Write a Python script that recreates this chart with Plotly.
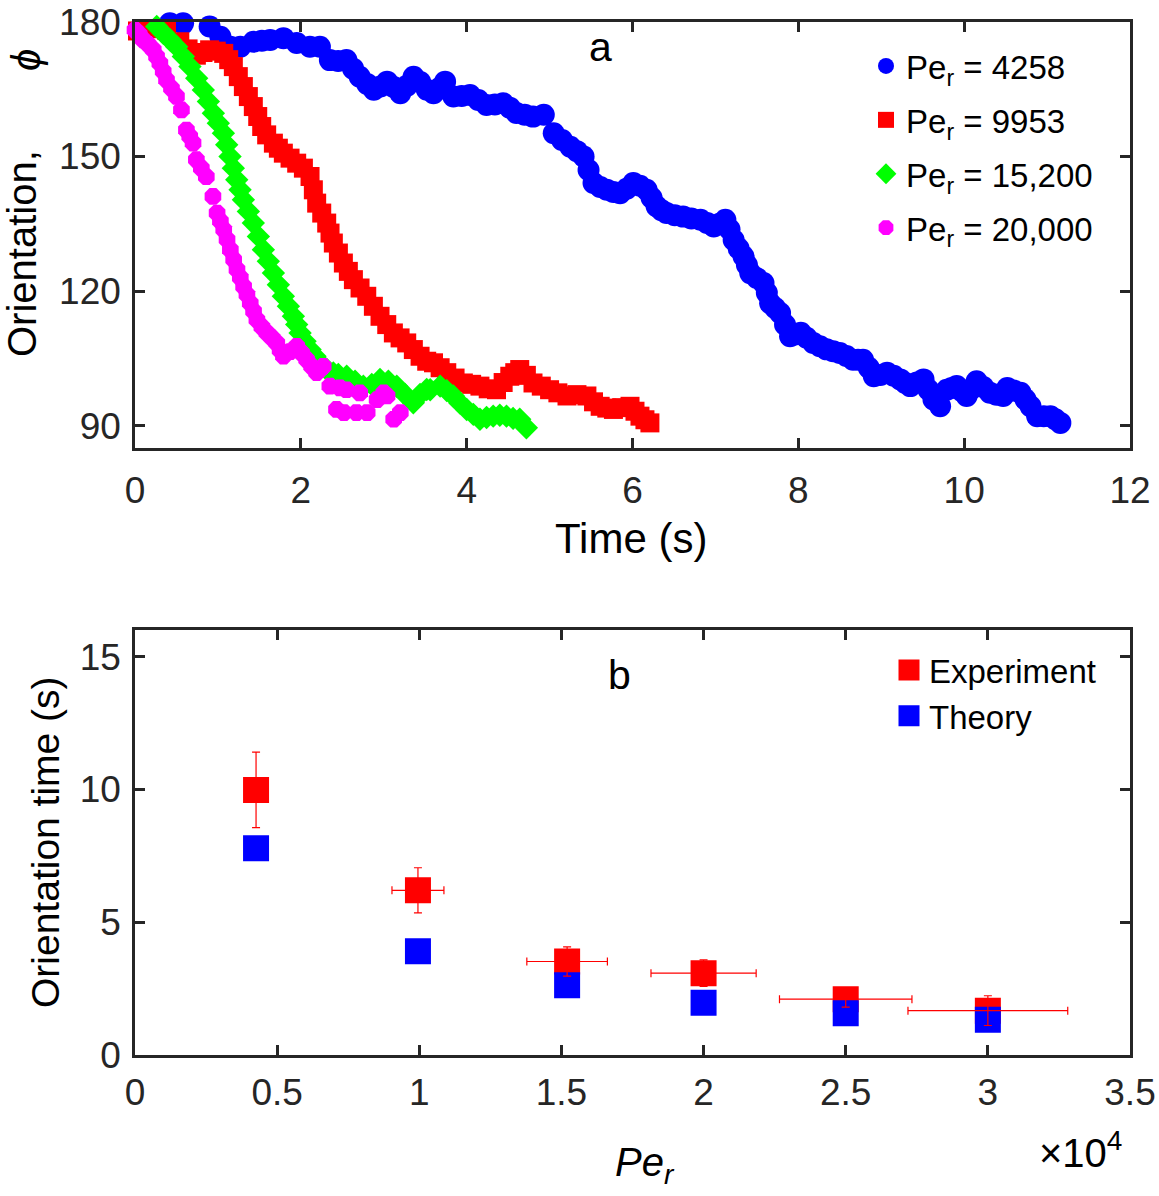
import plotly.graph_objects as go

# ---------------- Panel (a): orientation vs time ----------------
t_4258 = [0.18, 0.42, 0.58, 0.76, 0.9, 1.03, 1.15, 1.27, 1.43, 1.53, 1.63, 1.79, 1.95, 2.11, 2.23, 2.35,
          2.45, 2.55, 2.63, 2.71, 2.8, 2.88, 2.96, 3.04, 3.12, 3.2, 3.28, 3.36, 3.44, 3.52, 3.6, 3.67, 3.74,
          3.84, 3.94, 4.04, 4.14, 4.24, 4.34, 4.44, 4.52, 4.6, 4.7, 4.8, 4.93, 5.05, 5.15, 5.25, 5.33, 5.41,
          5.47, 5.53, 5.61, 5.69, 5.77, 5.85, 5.93, 6.01, 6.09, 6.17, 6.23, 6.29, 6.35, 6.41, 6.51, 6.61,
          6.71, 6.82, 6.9, 6.98, 7.05, 7.12, 7.17, 7.22, 7.28, 7.34, 7.38, 7.42, 7.5, 7.58, 7.62, 7.66, 7.72,
          7.78, 7.84, 7.9, 7.96, 8.03, 8.1, 8.18, 8.26, 8.34, 8.42, 8.5, 8.58, 8.66, 8.72, 8.78, 8.85, 8.91,
          8.99, 9.07, 9.15, 9.23, 9.29, 9.35, 9.43, 9.51, 9.57, 9.63, 9.71, 9.79, 9.85, 9.91, 9.97, 10.03,
          10.09, 10.15, 10.23, 10.31, 10.39, 10.47, 10.52, 10.6, 10.68, 10.74, 10.8, 10.88, 10.96, 11.04,
          11.1, 11.16]
phi_4258 = [180.1, 179.7, 179.7, 180.4, 179.0, 176.7, 174.5, 174.5, 175.6, 175.8, 176.0, 176.4, 175.3, 174.5,
            174.5, 171.5, 171.3, 171.5, 169.6, 167.8, 166.2, 164.9, 165.6, 166.7, 165.5, 164.1, 165.8, 167.8,
            166.6, 164.9, 164.1, 165.2, 166.7, 163.4, 163.5, 163.7, 162.6, 161.5, 161.6, 161.9, 160.9, 159.7,
            159.3, 158.9, 159.3, 155.2, 153.7, 152.2, 151.2, 150.0, 147.0, 144.1, 143.2, 142.6, 142.1, 141.8,
            142.8, 144.1, 143.5, 142.6, 140.8, 138.9, 138.0, 137.4, 136.9, 136.6, 136.2, 135.9, 135.2, 134.4,
            135.0, 135.9, 133.8, 131.4, 129.5, 127.7, 125.8, 124.0, 122.9, 121.8, 119.6, 117.3, 116.2, 115.1,
            112.5, 109.9, 110.3, 110.7, 109.6, 108.4, 107.7, 107.0, 106.6, 106.2, 105.5, 104.7, 104.7, 104.7,
            102.9, 101.0, 101.3, 101.8, 101.1, 100.3, 99.5, 98.8, 99.6, 100.3, 98.0, 95.8, 94.3, 98.0, 98.4,
            98.8, 97.7, 96.6, 98.2, 99.9, 98.6, 97.3, 96.9, 96.6, 98.4, 97.8, 97.3, 95.8, 94.3, 92.1, 92.1,
            92.1, 91.4, 90.6]

t_9953 = [0.03, 0.2, 0.38, 0.54, 0.64, 0.74, 0.82, 0.9, 0.98, 1.07, 1.13, 1.186, 1.246, 1.307, 1.367, 1.427,
          1.48, 1.528, 1.588, 1.669, 1.729, 1.789, 1.87, 1.95, 2.031, 2.111, 2.151, 2.191, 2.252, 2.312,
          2.352, 2.392, 2.453, 2.513, 2.573, 2.634, 2.714, 2.795, 2.875, 2.955, 3.036, 3.116, 3.197, 3.277,
          3.357, 3.438, 3.518, 3.6, 3.68, 3.76, 3.86, 3.96, 4.06, 4.16, 4.26, 4.36, 4.44, 4.52, 4.58, 4.64,
          4.72, 4.8, 4.9, 5.0, 5.1, 5.21, 5.33, 5.45, 5.53, 5.61, 5.69, 5.77, 5.87, 5.97, 6.03, 6.09, 6.15,
          6.21]
phi_9953 = [178.0, 178.5, 178.2, 175.6, 174.0, 172.6, 173.2, 173.8, 173.5, 173.0, 171.6, 170.05, 167.82,
            165.6, 163.37, 161.14, 158.92, 156.69, 154.83, 152.98, 151.86, 150.75, 149.64, 148.52, 147.41,
            145.55, 142.58, 139.61, 137.39, 135.16, 132.93, 130.71, 128.48, 126.25, 124.39, 122.54, 120.68,
            118.83, 116.6, 114.37, 112.52, 110.66, 109.55, 108.43, 106.95, 105.46, 104.35, 104.0, 102.9,
            101.8, 100.6, 99.5, 99.2, 98.8, 98.2, 98.0, 99.6, 101.0, 101.8, 102.5, 101.2, 99.5, 98.8, 98.0,
            97.3, 96.6, 96.9, 96.6, 95.3, 94.3, 93.9, 93.6, 94.0, 94.3, 93.2, 92.1, 91.3, 90.6]

t_15200 = [0.02, 0.181, 0.262, 0.342, 0.422, 0.503, 0.583, 0.663, 0.744, 0.824, 0.885, 0.945, 1.005, 1.066,
           1.106, 1.146, 1.186, 1.227, 1.267, 1.307, 1.367, 1.427, 1.488, 1.548, 1.608, 1.669, 1.729, 1.789,
           1.85, 1.91, 1.95, 1.991, 2.051, 2.111, 2.171, 2.232, 2.312, 2.392, 2.452, 2.553, 2.654, 2.754,
           2.855, 2.955, 3.056, 3.157, 3.257, 3.357, 3.438, 3.518, 3.56, 3.68, 3.76, 3.84, 3.92, 4.0, 4.08,
           4.16, 4.24, 4.32, 4.4, 4.48, 4.56, 4.64, 4.72]
phi_15200 = [181.0, 180.45, 179.0, 177.48, 176.03, 174.5, 172.28, 170.05, 167.45, 164.86, 162.26, 159.66,
             157.44, 155.21, 152.61, 150.01, 147.41, 144.82, 142.59, 140.36, 137.76, 135.16, 132.19, 129.22,
             126.62, 124.02, 121.42, 118.83, 116.6, 114.37, 112.52, 110.66, 108.8, 106.95, 105.46, 103.98,
             102.49, 101.75, 101.4, 101.01, 99.89, 98.78, 99.15, 100.27, 99.89, 98.78, 96.93, 95.07, 96.93,
             98.04, 98.0, 98.8, 97.8, 96.6, 95.0, 93.6, 92.5, 91.4, 91.8, 92.1, 92.3, 92.1, 91.6, 91.4, 89.5]

t_20000 = [0.0, 0.05, 0.1, 0.16, 0.22, 0.26, 0.3, 0.34, 0.38, 0.44, 0.5, 0.56, 0.62, 0.66, 0.7, 0.74, 0.8,
           0.86, 0.94, 0.99, 1.03, 1.07, 1.11, 1.15, 1.19, 1.23, 1.27, 1.31, 1.35, 1.39, 1.43, 1.47, 1.53,
           1.59, 1.65, 1.71, 1.75, 1.79, 1.87, 1.95, 2.01, 2.07, 2.13, 2.19, 2.23, 2.27, 2.35, 2.43, 2.47,
           2.52, 2.55, 2.67, 2.71, 2.8, 2.92, 3.0, 3.04, 3.12, 3.2]
phi_20000 = [178.2, 177.3, 176.0, 175.0, 173.8, 172.3, 170.8, 169.0, 167.1, 165.2, 163.4, 160.4, 155.9,
             154.5, 153.0, 149.3, 147.4, 145.5, 141.1, 137.4, 135.6, 133.7, 131.5, 129.2, 127.0, 124.8,
             123.0, 121.0, 119.2, 117.3, 115.5, 113.6, 112.0, 110.7, 109.6, 108.4, 106.8, 105.5, 106.5,
             107.7, 106.2, 104.7, 103.2, 101.8, 102.5, 103.2, 98.8, 93.6, 98.4, 92.9, 98.0, 92.9, 97.3,
             92.9, 95.8, 97.3, 96.6, 91.4, 92.9]

series_names = ["Pe<sub>r</sub> = 4258", "Pe<sub>r</sub> = 9953",
                "Pe<sub>r</sub> = 15,200", "Pe<sub>r</sub> = 20,000"]
time_ticks = [0, 2, 4, 6, 8, 10, 12]
phi_ticks = [90, 120, 150, 180]

# ---------------- Panel (b): orientation time vs Pe_r ----------------
pe_r = [4258, 9953, 15200, 20000, 25000, 30000]
exp_time = [9.98, 6.2, 3.52, 3.08, 2.1, 1.67]
exp_err_t = [1.42, 0.85, 0.55, 0.5, 0.3, 0.56]
exp_err_pe = [0, 914, 1417, 1850, 2330, 2810]
theory_time = [7.78, 3.91, 2.63, 1.97, 1.57, 1.33]
pe_ticks = [0, 5000, 10000, 15000, 20000, 25000, 30000, 35000]
pe_ticklabels = ["0", "0.5", "1", "1.5", "2", "2.5", "3", "3.5"]
otime_ticks = [0, 5, 10, 15]

# ---------------- figure ----------------
FONT = "Liberation Sans, Arial, Helvetica, sans-serif"
AX = "#262626"
W, H = 1159, 1196
ML, MR, MT, MB = 135, 29, 22, 141
PW, PH = W - ML - MR, H - MT - MB


def px(x):
    return (x - ML) / PW


def py(y):
    return (H - MB - y) / PH


fig = go.Figure()

styles = [
    (t_4258, phi_4258, "#0000FF", "circle", 22),
    (t_9953, phi_9953, "#FF0000", "square", 19),
    (t_15200, phi_15200, "#00FF00", "diamond", 18),
    (t_20000, phi_20000, "#FF00FF", "octagon", 18),
]
for i, (tt, pp, col, sym, sz) in enumerate(styles):
    fig.add_trace(go.Scatter(
        x=tt, y=pp, mode="markers", name=series_names[i],
        marker=dict(color=col, symbol=sym, size=sz, line=dict(width=0)),
        cliponaxis=False, xaxis="x", yaxis="y", legend="legend",
        legendgroup="g%d" % i,
    ))

fig.add_trace(go.Scatter(
    x=pe_r, y=exp_time, mode="markers", name="Experiment",
    marker=dict(color="#FF0000", symbol="square", size=21, line=dict(color="#FF0000", width=5)),
    xaxis="x2", yaxis="y2", legend="legend2",
))
fig.add_trace(go.Scatter(
    x=pe_r, y=theory_time, mode="markers", name="Theory",
    marker=dict(color="#0000FF", symbol="square", size=21, line=dict(color="#0000FF", width=5)),
    xaxis="x2", yaxis="y2", legend="legend2",
))
fig.add_trace(go.Scatter(
    x=pe_r, y=exp_time, mode="markers", showlegend=False,
    marker=dict(color="rgba(0,0,0,0)", size=1),
    error_y=dict(type="data", array=exp_err_t, color="#FF0000", thickness=1.2, width=4),
    error_x=dict(type="data", array=exp_err_pe, color="#FF0000", thickness=1.2, width=4),
    xaxis="x2", yaxis="y2",
))

axis_common = dict(
    showline=True, linecolor=AX, linewidth=2.5, mirror="ticks",
    ticks="inside", ticklen=10, tickwidth=2.5, tickcolor=AX,
    showgrid=False, zeroline=False, automargin=False,
    tickfont=dict(family=FONT, size=37, color=AX),
)

fig.update_layout(
    width=W, height=H,
    margin=dict(l=ML, r=MR, t=MT, b=MB, autoexpand=False),
    paper_bgcolor="white", plot_bgcolor="white",
    font=dict(family=FONT, color="#000000"),
    xaxis=dict(domain=[0, 1], anchor="y", range=[0, 12], tickvals=time_ticks,
               ticklabelstandoff=8, **axis_common),
    yaxis=dict(domain=[py(448), 1], anchor="x", range=[85, 180], tickvals=phi_ticks,
               ticklabelstandoff=4, **axis_common),
    xaxis2=dict(domain=[0, 1], anchor="y2", range=[0, 35000], tickvals=pe_ticks,
                ticktext=pe_ticklabels, ticklabelstandoff=3, **axis_common),
    yaxis2=dict(domain=[0, py(630)], anchor="x2", range=[0, 16], tickvals=otime_ticks,
                ticklabelstandoff=4, **axis_common),
    legend=dict(x=px(866), y=py(38), xanchor="left", yanchor="top",
                font=dict(family=FONT, size=33, color="#000000"),
                bgcolor="rgba(0,0,0,0)", borderwidth=0, tracegroupgap=8),
    legend2=dict(x=px(889), y=py(642), xanchor="left", yanchor="top",
                 font=dict(family=FONT, size=33, color="#000000"),
                 bgcolor="rgba(0,0,0,0)", borderwidth=0),
)

ann = [
    dict(text="Time (s)", x=px(631), y=py(538), size=42, angle=0),
    dict(text="Orientation,", x=px(22), y=py(254), size=40, angle=-90),
    dict(text="<i>ϕ</i>", x=px(26), y=py(60), size=40, angle=-90),
    dict(text="Orientation time (s)", x=px(45), y=py(842), size=39, angle=-90),
    dict(text="<i>Pe<sub>r</sub></i>", x=px(645), y=py(1165), size=40, angle=0),
    dict(text="×10<sup>4</sup>", x=px(1080), y=py(1150), size=40, angle=0),
    dict(text="a", x=px(600), y=py(47), size=41, angle=0),
    dict(text="b", x=px(619), y=py(675), size=41, angle=0),
]
for a in ann:
    fig.add_annotation(text=a["text"], x=a["x"], y=a["y"], xref="paper", yref="paper",
                       xanchor="center", yanchor="middle", showarrow=False, textangle=a["angle"],
                       font=dict(family=FONT, size=a["size"], color="#000000"))

fig.write_html("out.html")
